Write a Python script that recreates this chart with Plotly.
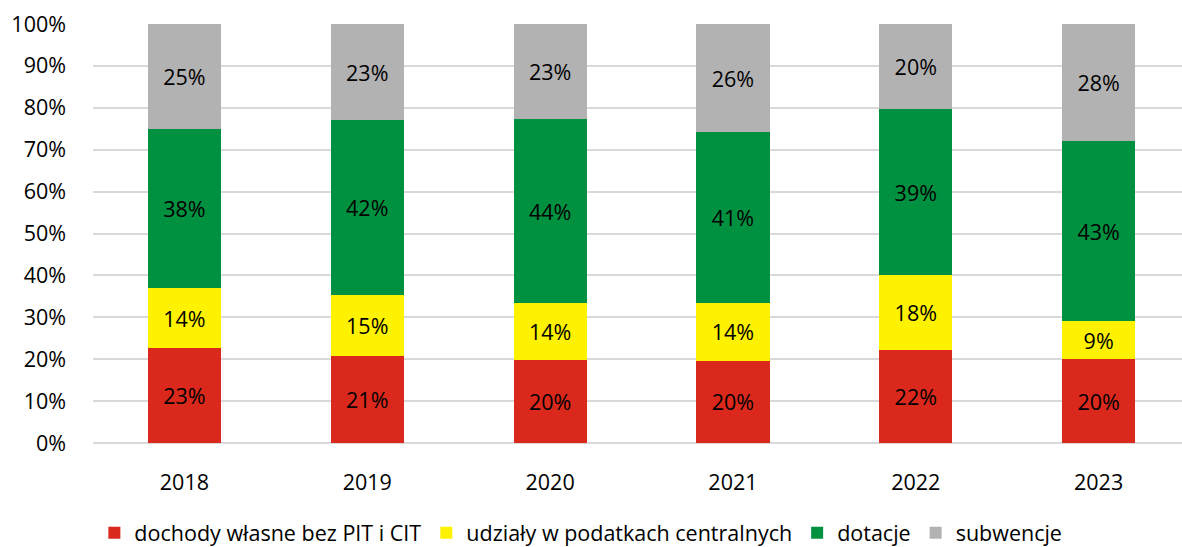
import plotly.graph_objects as go

# Shares of municipal revenue by source, percent of total
years = ["2018", "2019", "2020", "2021", "2022", "2023"]
dochody_wlasne = [22.6, 20.7, 19.7, 19.6, 22.2, 20.0]
udzialy = [14.3, 14.7, 13.6, 13.8, 18.0, 9.0]
dotacje = [38.0, 41.6, 44.0, 40.8, 39.4, 43.0]
subwencje = [25.1, 23.0, 22.7, 25.8, 20.4, 28.0]

series = [
    ("dochody własne bez PIT i CIT", dochody_wlasne, "#DA291C"),
    ("udziały w podatkach centralnych", udzialy, "#FFF200"),
    ("dotacje", dotacje, "#009140"),
    ("subwencje", subwencje, "#B2B2B2"),
]

FONT = "Open Sans"
SIZE = 21.5

fig = go.Figure()
for name, vals, color in series:
    fig.add_trace(go.Bar(
        x=years,
        y=vals,
        name=name,
        marker=dict(color=color, line=dict(width=0)),
        texttemplate="%{y:.0f}%",
        textposition="inside",
        insidetextanchor="middle",
        textfont=dict(family=FONT, size=SIZE, color="black"),
        constraintext="none",
        hoverinfo="skip",
    ))

fig.update_layout(
    barmode="stack",
    bargap=0.6,
    width=1182,
    height=547,
    margin=dict(l=92.5, r=0, t=24.3, b=103.7, autoexpand=False),
    plot_bgcolor="white",
    paper_bgcolor="white",
    font=dict(family=FONT, size=SIZE, color="black"),
    showlegend=True,
    legend=dict(
        orientation="h",
        x=0.448,
        xanchor="center",
        y=-0.214,
        yanchor="middle",
        font=dict(family=FONT, size=SIZE, color="black"),
        itemwidth=30,
        traceorder="normal",
    ),
    xaxis=dict(
        type="category",
        range=[-0.5, 5.456],
        showgrid=False,
        showline=False,
        ticks="",
        ticklabelstandoff=24,
        tickfont=dict(family=FONT, size=SIZE, color="black"),
    ),
    yaxis=dict(
        range=[0, 100],
        dtick=10,
        ticksuffix="%",
        showgrid=True,
        gridcolor="#D9D9D9",
        gridwidth=1.5,
        zeroline=True,
        zerolinecolor="#D9D9D9",
        zerolinewidth=1.5,
        showline=False,
        ticks="",
        ticklabelstandoff=26,
        tickfont=dict(family=FONT, size=SIZE, color="black"),
    ),
)

fig.write_html("out.html")
